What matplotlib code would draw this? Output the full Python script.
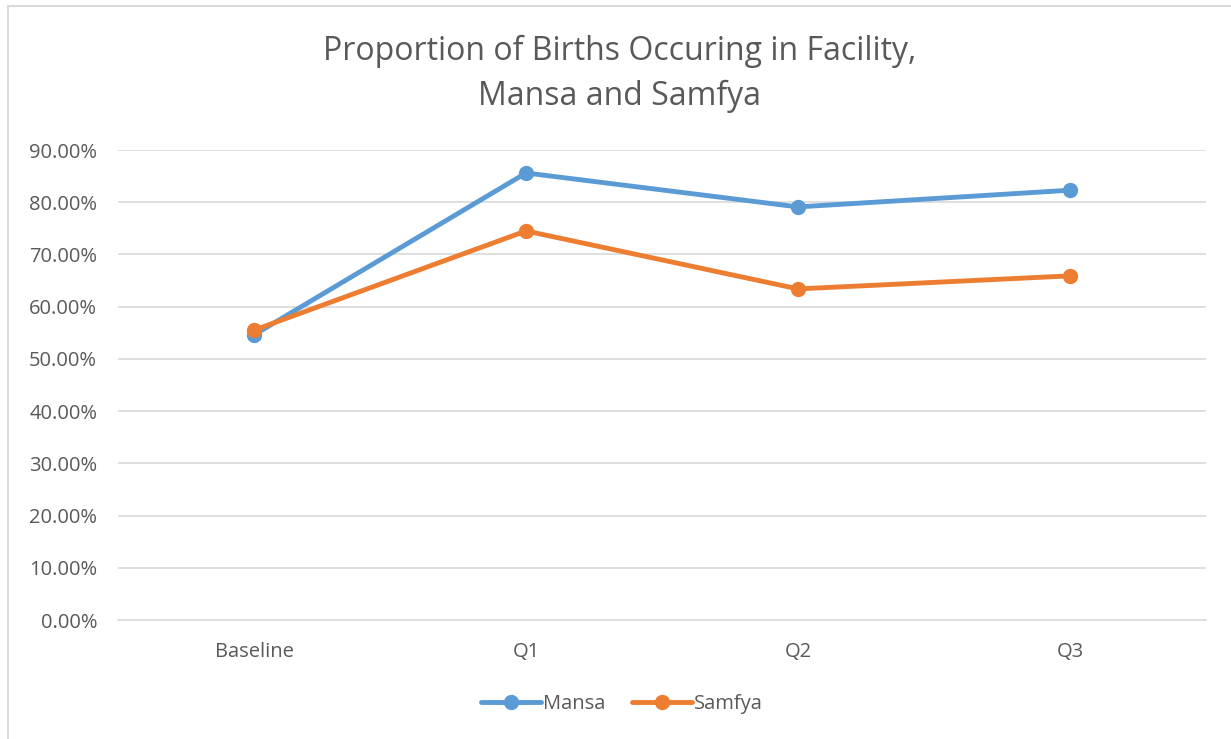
import matplotlib.pyplot as plt
from matplotlib.patches import Rectangle
from matplotlib.ticker import PercentFormatter

# data
quarters = ["Baseline", "Q1", "Q2", "Q3"]
mansa = [0.546, 0.856, 0.791, 0.823]
samfya = [0.555, 0.745, 0.634, 0.659]

W, H = 1231, 739
fig = plt.figure(figsize=(W / 100, H / 100), dpi=100)
plt.rcParams['font.family'] = ['Open Sans', 'DejaVu Sans']

# chart border
fig.patches.append(Rectangle((8 / W, -0.1), 1.2, 1 - 6 / H + 0.1, transform=fig.transFigure,
                             fill=False, edgecolor='#d9d9d9', linewidth=1.5))

ax = fig.add_axes([118 / W, (H - 620) / H, (1206 - 118) / W, 470 / H])

x = range(len(quarters))
ax.plot(x, mansa, color='#5b9bd5', lw=3.5, marker='o', ms=10, label='Mansa', solid_capstyle='round')
ax.plot(x, samfya, color='#ed7d31', lw=3.5, marker='o', ms=10, label='Samfya', solid_capstyle='round')

ax.set_xlim(-0.5, 3.5)
ax.set_ylim(0, 0.9)
ax.set_yticks([i / 10 for i in range(10)])
ax.yaxis.set_major_formatter(PercentFormatter(1.0, decimals=2))
ax.set_xticks(list(x))
ax.set_xticklabels(quarters)
ax.grid(axis='y', color='#d9d9d9', lw=1.2)
ax.set_axisbelow(True)
for s in ['top', 'right', 'left']:
    ax.spines[s].set_visible(False)
ax.spines['bottom'].set_color('#d9d9d9')
ax.spines['bottom'].set_linewidth(1.2)
ax.tick_params(length=0, labelsize=14.5, colors='#595959')
ax.tick_params(axis='y', pad=15)
ax.tick_params(axis='x', pad=16)

fig.text(620 / W, 1 - 74 / H, "Proportion of Births Occuring in Facility,\nMansa and Samfya",
         ha='center', va='center', fontsize=23, color='#595959', linespacing=1.45)

fig.legend(loc='center', bbox_to_anchor=(622 / W, 1 - 704 / H), ncol=2, frameon=False,
           fontsize=14.5, labelcolor='#595959', handlelength=3.0, handletextpad=0.1,
           columnspacing=1.3)

fig.savefig('out.png', dpi=100)
